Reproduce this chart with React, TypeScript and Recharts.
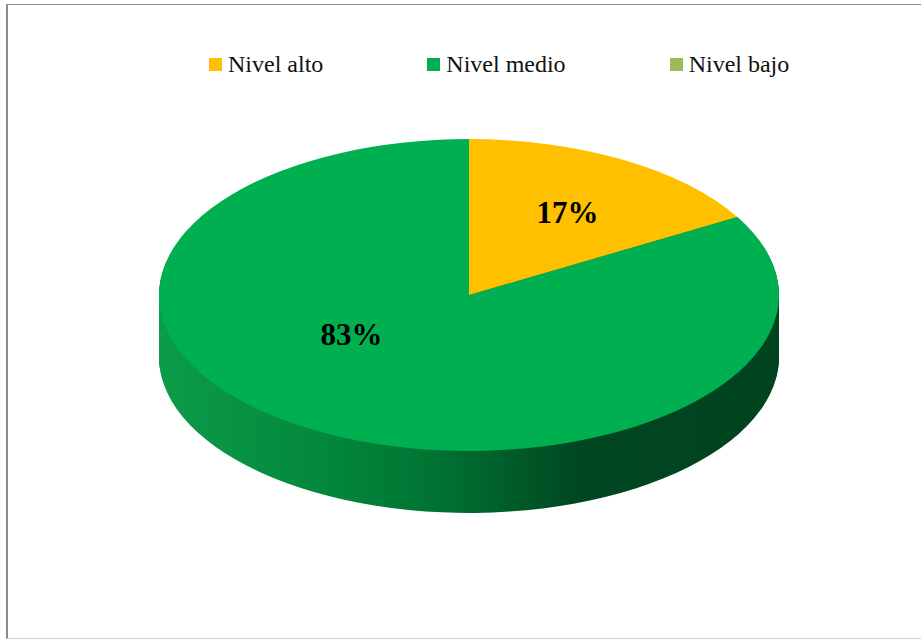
import { PieChart, Pie, Cell, Legend } from "recharts"

const categories = ["Nivel alto", "Nivel medio", "Nivel bajo"]
const values = [1, 5, 0]
const topColors = ["#FFC000", "#00B050", "#9BBB59"]
const sideGradients = ["sideYellow", "sideGreen", "sideOlive"]

const pieData = categories.map((name, i) => ({ name, value: values[i] }))

// fake 3D: every sector path is squashed vertically, the rim is a stack of pies
const S = 0.503
const CX = 469
const TOP_CY = 295
const R = 310
const DEPTH = 62
const rimOffsets = Array.from({ length: DEPTH }, (_, i) => DEPTH - i)
const LABEL_NUDGE = [
    [4, 0],
    [-23, -43],
    [0, 0],
]
const RADIAN = Math.PI / 180

const renderLabel = (props: any) => {
    const { cx, cy, midAngle, outerRadius, percent, index } = props
    if (!values[index]) return null
    const r = outerRadius * 0.61
    const x = cx + r * Math.cos(-midAngle * RADIAN) + LABEL_NUDGE[index][0]
    const y = (cy + r * Math.sin(-midAngle * RADIAN)) * S + LABEL_NUDGE[index][1]
    return (
        <text
            x={x}
            y={y}
            textAnchor="middle"
            dominantBaseline="central"
            fill="#000"
            fontFamily="'Liberation Serif', serif"
            fontWeight="bold"
            fontSize={31}
        >
            {`${Math.round(percent * 100)}%`}
        </text>
    )
}

const renderLegend = () => (
    <div style={{ display: "flex", gap: 104, fontFamily: "'Liberation Serif', serif", fontSize: 24, color: "#111" }}>
        {categories.map((c, i) => (
            <div key={c} style={{ display: "flex", alignItems: "center" }}>
                <span style={{ width: 13, height: 13, background: topColors[i], marginRight: 6, display: "inline-block" }} />
                <span>{c}</span>
            </div>
        ))}
    </div>
)

export default function App() {
    return (
        <div style={{ position: "relative", width: 921, height: 639, background: "#fff" }}>
            <style>{`
                body { margin: 0; }
                path.recharts-sector { transform: scaleY(${S}); transform-origin: 0 0; }
            `}</style>
            <div
                style={{
                    position: "absolute",
                    left: 6,
                    top: 4,
                    width: 915,
                    height: 635,
                    borderLeft: "2px solid #8c8c8c",
                    borderTop: "1.5px solid #8c8c8c",
                    borderBottom: "1px solid #d0d0d0",
                    boxSizing: "border-box",
                }}
            />
            <PieChart width={921} height={639} margin={{ top: 0, right: 0, bottom: 0, left: 0 }}>
                <defs>
                    <linearGradient id="sideGreen" gradientUnits="userSpaceOnUse" x1={CX - R} y1={0} x2={CX + R} y2={0}>
                        <stop offset="0" stopColor="#0c9c48" />
                        <stop offset="0.25" stopColor="#03893d" />
                        <stop offset="0.45" stopColor="#007332" />
                        <stop offset="0.58" stopColor="#005a28" />
                        <stop offset="0.68" stopColor="#004621" />
                        <stop offset="1" stopColor="#00431f" />
                    </linearGradient>
                    <linearGradient id="sideYellow" gradientUnits="userSpaceOnUse" x1={CX - R} y1={0} x2={CX + R} y2={0}>
                        <stop offset="0" stopColor="#d9a300" />
                        <stop offset="1" stopColor="#7a5c00" />
                    </linearGradient>
                    <linearGradient id="sideOlive" gradientUnits="userSpaceOnUse" x1={CX - R} y1={0} x2={CX + R} y2={0}>
                        <stop offset="0" stopColor="#849f4b" />
                        <stop offset="1" stopColor="#4a5a2a" />
                    </linearGradient>
                </defs>
                {rimOffsets.map((off) => (
                    <Pie
                        key={off}
                        data={pieData}
                        dataKey="value"
                        cx={CX}
                        cy={(TOP_CY + off) / S}
                        outerRadius={R}
                        startAngle={90}
                        endAngle={-270}
                        stroke="none"
                        legendType="none"
                        isAnimationActive={false}
                    >
                        {pieData.map((d, i) => (
                            <Cell key={d.name} fill={`url(#${sideGradients[i]})`} />
                        ))}
                    </Pie>
                ))}
                <Pie
                    data={pieData}
                    dataKey="value"
                    cx={CX}
                    cy={TOP_CY / S}
                    outerRadius={R}
                    startAngle={90}
                    endAngle={-270}
                    stroke="none"
                    label={renderLabel}
                    labelLine={false}
                    isAnimationActive={false}
                >
                    {pieData.map((d, i) => (
                        <Cell key={d.name} fill={topColors[i]} />
                    ))}
                </Pie>
                <Legend
                    verticalAlign="middle"
                    content={renderLegend}
                    wrapperStyle={{ top: 51, left: 209, width: "auto" }}
                />
            </PieChart>
        </div>
    )
}
